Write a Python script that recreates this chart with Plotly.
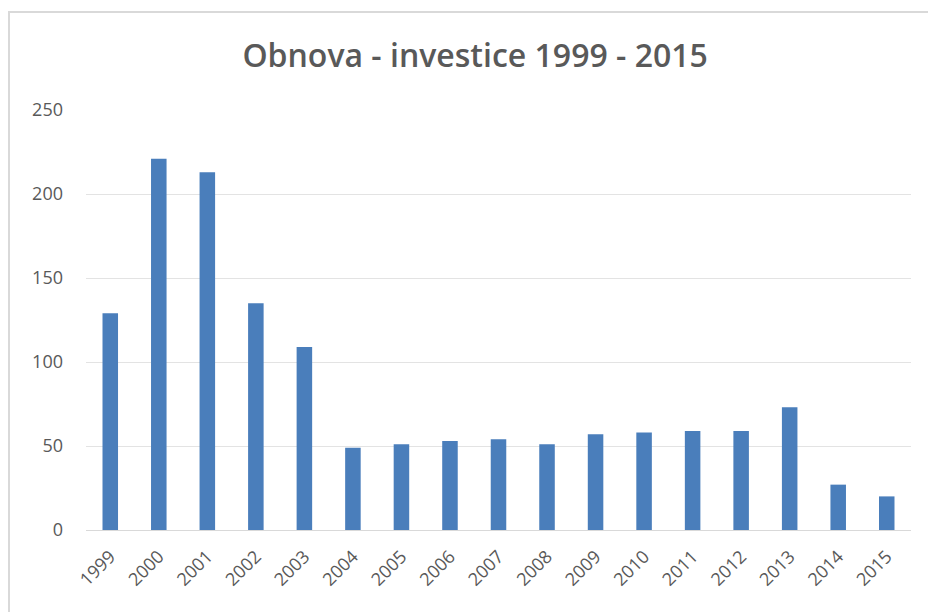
import plotly.graph_objects as go

years = ["1999", "2000", "2001", "2002", "2003", "2004", "2005", "2006", "2007",
         "2008", "2009", "2010", "2011", "2012", "2013", "2014", "2015"]
values = [129, 221, 213, 135, 109, 49, 51, 53, 54, 51, 57, 58, 59, 59, 73, 27, 20]
y_ticks = [0, 50, 100, 150, 200, 250]

fig = go.Figure(go.Bar(x=years, y=values, marker_color="#4a7ebb", marker_line_width=0))

L, R, T, B = 86, 17, 110, 82
W, H = 928, 612
pw, ph = W - L - R, H - T - B

fig.update_layout(
    width=W, height=H,
    margin=dict(l=L, r=R, t=T, b=B),
    paper_bgcolor="white", plot_bgcolor="white",
    bargap=0.68,
    showlegend=False,
    font=dict(family="Open Sans, Liberation Sans, sans-serif", color="#595959"),
    title=dict(text="Obnova - investice 1999 - 2015", x=0.512, xanchor="center",
               y=1 - 56 / H, yanchor="middle",
               font=dict(size=32, color="#595959", family="Open Sans, sans-serif", weight=600)),
    xaxis=dict(type="category", tickangle=-45, tickfont=dict(size=18, color="#595959"),
               showline=True, linecolor="#d9d9d9", linewidth=1, ticks="", showgrid=False,
               ticklabelstandoff=8),
    yaxis=dict(range=[0, 250], tickvals=y_ticks, tickfont=dict(size=18, color="#595959"),
               showgrid=True, gridcolor="#e3e3e3", gridwidth=1, zeroline=False,
               ticks="", ticklen=0, showline=False, ticklabelstandoff=22),
    shapes=[dict(type="rect", xref="paper", yref="paper",
                 x0=(9 - L) / pw, x1=(940 - L) / pw,
                 y0=(H - B - 620) / ph, y1=(H - B - 12) / ph,
                 line=dict(color="#d9d9d9", width=2), fillcolor="rgba(0,0,0,0)", layer="below")],
)

fig.write_html("out.html", config={"displayModeBar": False},
               post_script="document.body.style.margin='0';document.body.style.overflow='hidden';")
